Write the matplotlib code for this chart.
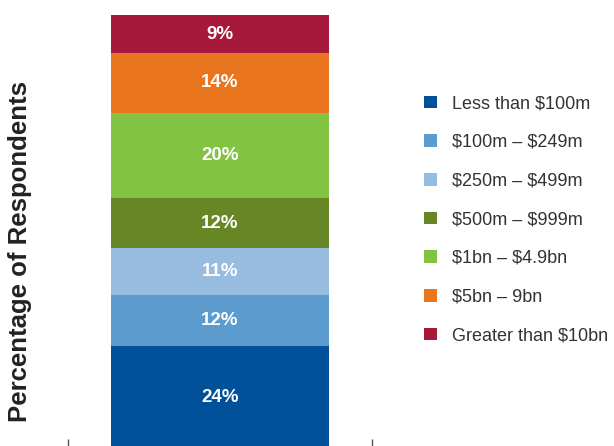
import matplotlib.pyplot as plt
from matplotlib.patches import Patch

plt.rcParams['font.family'] = ['Liberation Sans', 'DejaVu Sans']

categories = ['Less than \\$100m', '\\$100m – \\$249m', '\\$250m – \\$499m', '\\$500m – \\$999m',
              '\\$1bn – \\$4.9bn', '\\$5bn – 9bn', 'Greater than \\$10bn']
values = [24, 12, 11, 12, 20, 14, 9]
colors = ['#00509A', '#5B9BCD', '#98BBE0', '#678727', '#82C341', '#EA751F', '#A6193A']

fig = plt.figure(figsize=(6.14, 4.46), dpi=100)
ax = fig.add_axes([68 / 614, -2 / 446, 304 / 614, 433 / 446])

bottom = 0
for v, c in zip(values, colors):
    ax.bar(0, v, width=0.714, bottom=bottom, color=c, linewidth=0)
    ax.text(0, bottom + v / 2, '%d%%' % v, ha='center', va='center',
            color='white', fontsize=13.5, fontweight='bold')
    bottom += v

ax.set_xlim(-0.5, 0.5)
ax.set_ylim(0, sum(values))
ax.set_xticks([-0.5, 0.5])
ax.set_xticklabels([])
ax.set_yticks([])
ax.tick_params(axis='x', direction='in', length=6.5, width=1, color='#555555')
for s in ax.spines.values():
    s.set_visible(False)

fig.text(20 / 614, 1 - 252 / 446, 'Percentage of Respondents', rotation=90, ha='center', va='center',
         fontsize=18.5, fontweight='bold', color='#222222')

handles = [Patch(facecolor=c, edgecolor='none') for c in colors]
leg = fig.legend(handles, categories, loc='upper left', bbox_to_anchor=(408 / 614, 1 - 79 / 446),
                 frameon=False, fontsize=13, labelspacing=1.2, handlelength=0.72,
                 handleheight=0.72, handletextpad=0.83, labelcolor='#333333')

fig.savefig('out.png', dpi=100)
